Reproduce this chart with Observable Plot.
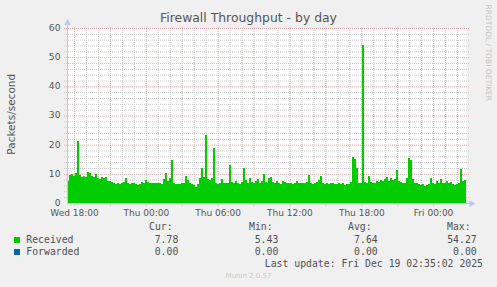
<!DOCTYPE html>
<html>
<head>
<meta charset="utf-8">
<script src="https://cdn.jsdelivr.net/npm/d3@7"></script>
<script src="https://cdn.jsdelivr.net/npm/@observablehq/plot@0.6"></script>
<style>
  html, body { margin: 0; padding: 0; background: #f0f0f0; }
  #wrap { position: relative; width: 497px; height: 287px; background: #f0f0f0; overflow: hidden; }
  #wrap svg { position: absolute; left: 0; top: 0; }
  .t { position: absolute; white-space: nowrap; line-height: 1; }
  .sans { font-family: "DejaVu Sans", sans-serif; }
  .mono { font-family: "DejaVu Sans Mono", monospace; font-size: 9.8px; color: #505050; }
  .sq { position: absolute; width: 6px; height: 6px; }
</style>
</head>
<body>
<div id="wrap"></div>
<script>
// ---- data ----
const title = "Firewall Throughput - by day";
const yLabel = "Packets/second";
const startTime = "2025-12-17T17:25:00Z";   // first sample (Wed 17:25)
const endTime = "2025-12-19T02:45:00Z";     // right edge of the graph
const sampleMinutes = 10;
const received = [
  7.5, 9.5, 9.8, 9.2, 10.2, 21.3, 9.5, 9.0, 9.2, 9.0,
  10.5, 10.2, 9.4, 9.0, 10.0, 8.6, 8.2, 8.8, 8.5, 9.0,
  7.6, 7.4, 7.2, 6.8, 6.6, 6.9, 6.5, 6.7, 7.2, 8.6,
  6.8, 6.6, 6.9, 7.0, 6.4, 6.3, 6.6, 7.2, 6.9, 8.0,
  7.1, 6.9, 7.0, 6.8, 7.0, 6.7, 6.9, 6.5, 8.2, 10.2,
  7.4, 8.5, 14.6, 6.8, 6.5, 6.4, 6.6, 6.8, 7.0, 9.2,
  8.0, 7.0, 6.6, 6.2, 5.43, 6.6, 8.5, 12.0, 9.0, 23.2,
  8.4, 7.8, 8.5, 18.8, 7.0, 6.6, 7.0, 8.2, 6.9, 6.8,
  7.0, 13.0, 7.2, 6.8, 7.4, 7.0, 6.6, 7.2, 12.0, 8.0,
  7.0, 8.6, 7.2, 6.8, 7.6, 8.2, 7.0, 7.4, 10.0, 7.2,
  7.0, 8.6, 9.0, 7.2, 6.8, 7.4, 7.0, 6.6, 7.6, 7.2,
  6.9, 6.8, 7.0, 6.6, 6.9, 7.4, 6.8, 7.0, 6.7, 6.9,
  7.2, 9.6, 7.0, 6.6, 6.9, 7.2, 8.0, 9.4, 6.8, 6.5,
  6.9, 6.6, 7.0, 6.8, 6.4, 6.6, 6.9, 6.5, 6.8, 6.2,
  6.6, 6.4, 7.2, 15.8, 15.2, 12.0, 6.8, 7.0, 54.27, 7.2,
  6.8, 9.4, 7.2, 6.8, 7.0, 7.6, 7.2, 8.0, 7.4, 8.4,
  8.8, 7.4, 8.6, 7.8, 8.2, 11.2, 7.6, 7.2, 7.0, 6.9,
  8.6, 15.6, 14.8, 8.4, 7.0, 6.8, 6.4, 6.2, 6.4, 6.0,
  6.3, 6.6, 8.6, 7.0, 6.6, 7.4, 6.8, 8.2, 7.0, 6.8,
  7.6, 6.9, 7.2, 6.4, 6.2, 6.6, 7.0, 11.8, 7.6, 7.78
];
const xTicks = ["2025-12-17T18:00:00Z", "2025-12-18T00:00:00Z", "2025-12-18T06:00:00Z",
                "2025-12-18T12:00:00Z", "2025-12-18T18:00:00Z", "2025-12-19T00:00:00Z"];
const yTicks = [0, 10, 20, 30, 40, 50, 60];
const seriesNames = ["Received", "Forwarded"];
const seriesColors = ["#00cc00", "#0066b3"];
const statHeaders = ["Cur:", "Min:", "Avg:", "Max:"];
const curValues = ["7.78", "0.00"];
const minValues = ["5.43", "0.00"];
const avgValues = ["7.64", "0.00"];
const maxValues = ["54.27", "0.00"];
const lastUpdate = "Last update: Fri Dec 19 02:35:02 2025";
const footer = "Munin 2.0.57";
const watermark = "RRDTOOL / TOBI OETIKER";

// ---- build ----
const t0 = new Date(startTime), tEnd = new Date(endTime);
const stepMs = sampleMinutes * 60000;
const rows = received.map((v, i) => ({
  a: new Date(+t0 + i * stepMs),
  b: new Date(+t0 + (i + 1) * stepMs),
  v
}));
const minute = 60000;
const ext = 15 * minute; // grid extends a little beyond the frame
const hours = d3.utcHour.every(1).range(new Date(+t0), tEnd);
const major = hours.filter(d => d.getUTCHours() % 3 === 0);
const minor = hours.filter(d => d.getUTCHours() % 3 !== 0);
const yMinor = d3.range(2, 60, 2).filter(d => d % 10 !== 0);
const yMajor = [10, 20, 30, 40, 50, 60];
const ticks = xTicks.map(d => new Date(d));
const axisColor = "#c0c6f2";

const chart = Plot.plot({
  width: 497,
  height: 218,
  marginLeft: 67,
  marginRight: 31,
  marginTop: 28,
  marginBottom: 15,
  x: { type: "utc", domain: [t0, tEnd] },
  y: { domain: [0, 60] },
  style: { background: "transparent", fontFamily: "DejaVu Sans, sans-serif", fontSize: "9.2px", color: "#555", overflow: "visible" },
  marks: [
    Plot.frame({ fill: "white", stroke: null }),
    Plot.ruleY(yMinor, { x1: new Date(+t0 - ext), x2: new Date(+tEnd + ext), stroke: "#c8c8c8", strokeDasharray: "1,1" }),
    Plot.ruleX(minor, { y1: 0, y2: 60, stroke: "#c8c8c8", strokeDasharray: "1,1" }),
    Plot.ruleY(yMajor, { x1: new Date(+t0 - ext), x2: new Date(+tEnd + ext), stroke: "#eda3a3", strokeDasharray: "1,1" }),
    Plot.ruleX(major, { y1: -1.0, y2: 60.6, stroke: "#eda3a3", strokeDasharray: "1,1" }),
    Plot.rectY(rows, { x1: "a", x2: "b", y: "v", fill: seriesColors[0], shapeRendering: "crispEdges" }),
    Plot.ruleY([0], { x1: t0, x2: new Date(+tEnd + 22 * minute), stroke: axisColor }),
    Plot.ruleX([t0], { y1: 0, y2: 61.6, stroke: axisColor }),
    Plot.dot([0], { x: () => t0, y: () => 61.9, symbol: "triangle", r: 2.6, fill: axisColor, stroke: null }),
    Plot.dot([0], { x: () => new Date(+tEnd + 25 * minute), y: () => 0, symbol: "triangle", rotate: 90, r: 2.6, fill: axisColor, stroke: null }),
    Plot.axisY(yTicks, { tickSize: 0, tickPadding: 7, label: null, fill: "#555", dy: -0.5 }),
    Plot.axisX(ticks, { tickSize: 0, tickPadding: 6.5, label: null, fill: "#555", fontSize: 9, tickFormat: d3.utcFormat("%a %H:%M") })
  ]
});

const wrap = document.getElementById("wrap");
wrap.appendChild(chart);

function addText(txt, cls, css) {
  const d = document.createElement("div");
  d.className = "t " + cls;
  d.textContent = txt;
  Object.assign(d.style, css);
  wrap.appendChild(d);
  return d;
}
// baseline helper: with line-height 1, DejaVu baseline sits ~0.846em below the box top
const topFor = (baseline, fs) => (baseline - 0.846 * fs) + "px";

addText(title, "sans", { left: "0px", width: "497px", textAlign: "center", fontSize: "12.4px", color: "#555", top: topFor(22.5, 12.4) });

// y-axis label (rotated)
addText(yLabel, "sans", { left: (11 - 60) + "px", top: (114 - 5.25) + "px", width: "120px", textAlign: "center", fontSize: "10.5px", color: "#555", transform: "rotate(-90deg)", transformOrigin: "60px 5.25px" });

// watermark (rotated clockwise)
addText(watermark, "sans", { left: (487.6 - 60) + "px", top: (53 - 3.75) + "px", width: "120px", textAlign: "center", fontSize: "7.5px", color: "#c4c4c4", transform: "rotate(90deg)", transformOrigin: "60px 3.75px" });

// legend
const fs = 9.8;
const headerLefts = [149, 249, 348, 447];
statHeaders.forEach((h, i) => addText(h, "mono", { left: headerLefts[i] + "px", top: topFor(230.7, fs) }));
const rightEdges = [178.3, 278.3, 377.7, 476.7];
const rowBase = [243, 255];
seriesNames.forEach((name, r) => {
  const sq = document.createElement("div");
  sq.className = "sq";
  Object.assign(sq.style, { left: "14px", top: (rowBase[r] - 6) + "px", background: seriesColors[r] });
  wrap.appendChild(sq);
  addText(name, "mono", { left: "26.3px", top: topFor(rowBase[r], fs) });
  [curValues, minValues, avgValues, maxValues].forEach((arr, c) => {
    addText(arr[r], "mono", { right: (497 - rightEdges[c]) + "px", top: topFor(rowBase[r], fs), textAlign: "right" });
  });
});
addText(lastUpdate, "mono", { right: (497 - 483) + "px", top: topFor(266.8, fs) });
addText(footer, "sans", { left: "0px", width: "497px", textAlign: "center", fontSize: "7px", color: "#c8c8c8", top: topFor(278.5, 7) });
</script>
</body>
</html>
